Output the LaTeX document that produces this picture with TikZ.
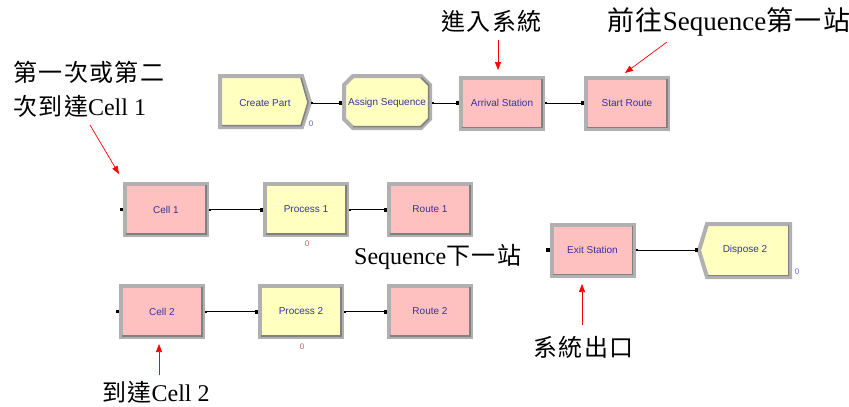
\documentclass[tikz,border=0pt]{standalone}
\usepackage{fontspec}
\setmainfont{Liberation Serif}
\newfontfamily\cjk[LetterSpace=6,Scale=1.0]{Noto Sans CJK TC}
\newfontfamily\arialf{Liberation Sans}
\usetikzlibrary{arrows.meta}
\definecolor{boxpink}{RGB}{255,192,192}
\definecolor{boxyellow}{RGB}{255,255,192}
\definecolor{rimgray}{RGB}{176,176,176}
\definecolor{rimdark}{RGB}{128,128,128}
\definecolor{labelblue}{RGB}{51,51,153}
\definecolor{zeroblue}{RGB}{102,102,204}
\definecolor{zerored}{RGB}{192,96,96}
\begin{document}
\begin{tikzpicture}[x=1pt,y=-1pt,
  modbox/.style={rectangle, minimum width=82pt, minimum height=51pt, line width=4pt, draw=rimgray, font=\arialf\fontsize{10}{12}\selectfont, text=labelblue, inner sep=0pt},
  station/.style={modbox, fill=boxpink},
  procbox/.style={modbox, fill=boxyellow},
  textonly/.style={rectangle, minimum width=#1, minimum height=51pt, font=\arialf\fontsize{10}{12}\selectfont, text=labelblue, inner sep=0pt, outer sep=0pt},
  rim/.style={line width=4pt, draw=rimgray, line join=miter},
  bevel/.style={line width=1.5pt, draw=rimdark},
  flow/.style={line width=0.7pt, black, {Square[length=2pt,width=2pt]}-{Square[length=3.5pt,width=3.5pt]}},
  note/.style={red, line width=0.7pt, -{Triangle[length=8pt,width=6pt]}},
  notetext/.style={inner sep=0pt, anchor=west, font=\fontsize{24}{28}\selectfont},
  zero/.style={inner sep=0pt, font=\arialf\fontsize{8}{9}\selectfont}
]
\useasboundingbox[fill=white] (0,0) rectangle (849,407);

% special shapes
\draw[rim, fill=boxyellow] (220,76) -- (302,76) -- (310,102.5) -- (302,127) -- (220,127) -- cycle;
\draw[bevel] (222,125.5) -- (301,125.5) -- (308,102.5) -- (301,78);
\node[textonly=92pt] (create) at (265,103) {Create Part};

\draw[rim, fill=boxyellow] (353,76) -- (421,76) -- (430,85) -- (430,119) -- (421,128) -- (353,128) -- (344,119) -- (344,85) -- cycle;
\draw[bevel] (353,126.5) -- (421,126.5) -- (428.5,119) -- (428.5,85) -- (421,77.5);
\node[textonly=90pt] (assign) at (387,103) {Assign Sequence};

\draw[rim, fill=boxyellow] (699,250.5) -- (707,224) -- (790,224) -- (790,277) -- (707,277) -- cycle;
\draw[bevel] (708,275.5) -- (788.5,275.5) -- (788.5,225);
\node[textonly=94pt] (dispose) at (745,250) {Dispose 2};

% rectangular modules
\node[station] (arrival) at (502,103) {Arrival Station};
\node[station] (startroute) at (627,103) {Start Route};
\node[station] (cell1) at (166,209.5) {Cell 1};
\node[procbox] (process1) at (306,209.5) {Process 1};
\node[station] (route1) at (430,209.5) {Route 1};
\node[station] (cell2) at (162,311.5) {Cell 2};
\node[procbox] (process2) at (301,311.5) {Process 2};
\node[station] (route2) at (430,311.5) {Route 2};
\node[station] (exit) at (592.5,250) {Exit Station};

\foreach \n in {arrival,startroute,cell1,process1,route1,cell2,process2,route2,exit}{
  \draw[bevel] ([shift={(3pt,3pt)}]\n.south west) -- ([shift={(-3pt,3pt)}]\n.south east) -- ([shift={(-3pt,-3pt)}]\n.north east);
}

% connectors
\draw[flow] (create.east) -- (assign.west);
\draw[flow] (assign.east) -- (arrival.west);
\draw[flow] (arrival.east) -- (startroute.west);
\draw[flow] (cell1.east) -- (process1.west);
\draw[flow] (process1.east) -- (route1.west);
\draw[flow] (cell2.east) -- (process2.west);
\draw[flow] (process2.east) -- (route2.west);
\draw[flow] (exit.east) -- (dispose.west);

% entry stubs
\foreach \n in {cell1,cell2,exit}{
  \fill ([shift={(-3.5pt,-1.75pt)}]\n.west) rectangle ([shift={(0pt,1.75pt)}]\n.west);
}

% counters
\node[zero, text=zeroblue] (z1) at (311,124) {0};
\node[zero, text=zerored] (z2) at (307,244) {0};
\node[zero, text=zerored] (z3) at (302,347) {0};
\node[zero, text=zeroblue] (z4) at (797,272) {0};

% annotations
\node[notetext] (t1a) at (13,72) {{\cjk 第一次或第二}};
\node[notetext] (t1b) at (13,106) {{\cjk 次到達}Cell 1};
\node[notetext] (t2) at (441,21) {{\cjk 進入系統}};
\node[notetext, font=\fontsize{27}{30}\selectfont] (t3) at (607,22) {{\cjk 前往}Sequence{\cjk 第一站}};
\node[notetext] (t4) at (354,257) {Sequence{\cjk 下一站}};
\node[notetext] (t5) at (533,347) {{\cjk 系統出口}};
\node[notetext] (t6) at (102,392) {{\cjk 到達}Cell 2};

\coordinate (a1s) at (90,125); \coordinate (a1e) at (119,174);
\coordinate (a2s) at (498,40); \coordinate (a2e) at (498,70);
\coordinate (a3s) at (667,42); \coordinate (a3e) at (625,73);
\coordinate (a4s) at (582,325); \coordinate (a4e) at (582,284);
\coordinate (a5s) at (159,375); \coordinate (a5e) at (159,344);
\draw[note] (a1s) -- (a1e);
\draw[note] (a2s) -- (a2e);
\draw[note] (a3s) -- (a3e);
\draw[note] (a4s) -- (a4e);
\draw[note] (a5s) -- (a5e);
\end{tikzpicture}
\end{document}
